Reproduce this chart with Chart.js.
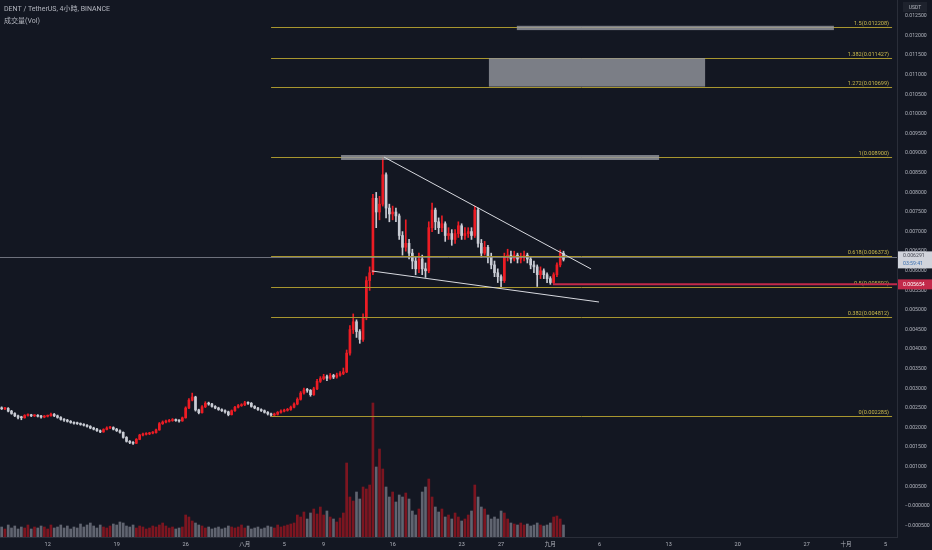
<!DOCTYPE html>
<html>
<head>
<meta charset="utf-8">
<script src="https://cdn.jsdelivr.net/npm/chart.js@4.4.0/dist/chart.umd.min.js"></script>
<style>
  html, body { margin: 0; padding: 0; background: #131722; }
  canvas { display: block; }
</style>
</head>
<body>
<canvas id="chart" width="932" height="550"></canvas>
<script>
// Data: DENT/USDT, one candle per 8h from 7 Jul 08:00, prices in 1e-6 USDT
var opens = [
  2500,2480,2490,2420,2360,2300,2260,2250,2310,2320, 2300,2310,2290,2270,2290,2300,2340,2300,2260,2210,
  2190,2160,2130,2110,2100,2080,2060,2030,1990,1960, 1920,1890,1950,1990,2000,1960,1920,1880,1750,1650,
  1620,1600,1700,1810,1830,1840,1860,1870,1940,2100, 2140,2160,2180,2200,2180,2170,2250,2500,2700,2780,
  2450,2380,2530,2620,2600,2540,2500,2460,2430,2400, 2330,2430,2520,2560,2580,2630,2620,2540,2500,2460,
  2430,2390,2350,2320,2340,2390,2420,2440,2460,2520, 2600,2720,2880,2960,2950,2840,2990,3180,3250,3300,
  3260,3330,3290,3340,3380,3420,3900,4500,4700,4450, 4250,4800,5750,5950,7850,7500,7700,8450,7600,7450,
  7500,7400,6900,6600,6700,6450,6250,6050,6300,6050, 6000,7100,7550,7250,7100,7200,6900,6950,6800,6950,
  7150,6900,6950,7000,6900,7550,6700,6450,6600,6350, 6150,5950,5850,5750,6350,6400,6300,6400,6300,6350,
  6400,6300,6150,6100,5900,6000,5900,5800,5700,5900, 6150,6450
];
var highs = [
  2530,2520,2510,2440,2380,2320,2290,2330,2350,2340, 2330,2330,2310,2310,2320,2370,2360,2320,2280,2230,
  2210,2180,2150,2140,2120,2100,2080,2050,2010,1980, 1940,1970,2020,2030,2020,1980,1940,1890,1770,1670,
  1640,1720,1830,1860,1870,1880,1900,1960,2130,2170, 2190,2210,2230,2220,2200,2270,2530,2740,2880,2800,
  2470,2560,2660,2650,2620,2560,2520,2480,2450,2420, 2450,2540,2590,2610,2670,2660,2640,2560,2520,2480,
  2450,2410,2370,2370,2410,2450,2470,2490,2550,2630, 2760,2920,3010,3000,2970,3030,3230,3300,3360,3340,
  3380,3360,3390,3430,3520,3980,4600,4900,4750,4500, 4900,5850,6100,7950,8000,7900,8900,8500,7700,7650,
  7600,7450,7000,7300,6800,6550,6350,6450,6400,6200, 7250,7730,7600,7350,7400,7250,7100,7050,7050,7250,
  7200,7100,7100,7100,7650,7600,6800,6750,6650,6450, 6250,6050,5900,6450,6550,6500,6500,6450,6450,6500,
  6450,6350,6250,6150,6100,6050,5950,5850,5950,6200, 6530,6500
];
var lows = [
  2460,2460,2400,2340,2280,2220,2200,2240,2290,2280, 2280,2270,2240,2250,2270,2290,2280,2240,2190,2160,
  2140,2110,2090,2080,2060,2040,2010,1970,1940,1900, 1870,1880,1940,1970,1940,1900,1860,1730,1630,1590,
  1570,1590,1690,1790,1810,1820,1840,1860,1930,2080, 2120,2140,2160,2160,2140,2160,2240,2480,2680,2420,
  2350,2370,2510,2570,2520,2480,2440,2410,2370,2300, 2320,2410,2500,2540,2560,2590,2520,2480,2440,2410,
  2370,2320,2285,2300,2320,2370,2400,2420,2440,2500, 2580,2700,2850,2900,2800,2820,2970,3150,3220,3200,
  3230,3250,3260,3310,3350,3400,3850,4400,4300,4150, 4200,4750,5500,5900,7100,7300,7650,7350,7250,7300,
  7250,6800,6400,6500,6300,6050,5900,5950,5900,5830, 5950,7000,7050,6950,7000,6750,6800,6650,6700,6850,
  6800,6800,6850,6800,6850,6600,6350,6400,6200,6050, 5850,5700,5580,5700,6250,6200,6250,6200,6200,6250,
  6200,6050,5950,5600,5800,5800,5700,5654,5680,5850, 6100,6250
];
var closes = [
  2480,2490,2420,2360,2300,2260,2250,2310,2320,2300, 2310,2290,2270,2290,2300,2340,2300,2260,2210,2190,
  2160,2130,2110,2100,2080,2060,2030,1990,1960,1920, 1890,1950,1990,2000,1960,1920,1880,1750,1650,1620,
  1600,1700,1810,1830,1840,1860,1870,1940,2100,2140, 2160,2180,2200,2180,2170,2250,2500,2700,2780,2450,
  2380,2530,2620,2600,2540,2500,2460,2430,2400,2330, 2430,2520,2560,2580,2630,2620,2540,2500,2460,2430,
  2390,2350,2320,2340,2390,2420,2440,2460,2520,2600, 2720,2880,2960,2950,2840,2990,3180,3250,3300,3260,
  3330,3290,3340,3380,3420,3900,4500,4700,4450,4250, 4800,5750,5950,7850,7500,7700,8450,7600,7450,7500,
  7400,6900,6600,6700,6450,6250,6050,6300,6050,6000, 7100,7550,7250,7100,7200,6900,6950,6800,6950,7150,
  6900,6950,7000,6900,7550,6700,6450,6600,6350,6150, 5950,5850,5750,6350,6400,6300,6400,6300,6350,6400,
  6300,6150,6100,5900,6000,5900,5800,5700,5900,6150, 6450,6291
];
// volume, arbitrary units
var volumes = [
  10,8,12,9,11,8,10,9,12,8, 10,9,11,10,8,12,9,10,12,9,
  11,8,10,9,13,10,12,14,11,9, 12,10,9,11,13,12,15,14,11,10,
  12,9,11,10,8,9,11,10,12,14, 11,9,10,8,9,10,22,20,16,14,
  12,11,9,10,8,9,10,8,9,11, 10,9,10,12,9,11,8,9,10,8,
  9,11,10,9,12,10,11,12,13,14, 22,20,25,18,24,28,23,30,22,26,
  20,18,15,19,24,74,40,36,45,38, 50,48,52,134,70,88,68,50,40,45,
  35,42,40,44,38,26,22,28,45,50, 58,40,30,25,28,20,22,18,24,20,
  16,18,22,26,52,40,30,28,22,18, 20,18,26,24,18,14,13,12,14,12,
  13,11,12,14,12,11,12,14,20,21, 18,12
];

var slotCount = 273; // 8h slots shown, up to early October
var tickSlots = [14, 35, 56, 74, 86, 98, 119, 140, 152, 167, 182, 203, 224, 245, 257, 269];
var tickLabels = ['12', '19', '26', '八月', '5', '9', '16', '23', '27', '九月', '6', '13', '20', '27', '十月', '5'];

var fibLevels = ['0', '0.382', '0.5', '0.618', '1', '1.272', '1.382', '1.5'];
var fibPrices = [0.002285, 0.004812, 0.005592, 0.006373, 0.0089, 0.010699, 0.011427, 0.012208];

var lastPrice = 0.006291;
var lastTimer = '03:59:41';
var alertPrice = 0.005654;

// drawings in slot / price units
var boxes = [
  [156.8, 253.3, 0.01225, 0.01214],
  [148.3, 214.1, 0.011427, 0.010699],
  [103.3, 200.1, 0.008954, 0.008827]
];
var trendLines = [
  [116.4, 0.0089, 179.4, 0.006046],
  [112.7, 0.005995, 181.8, 0.005204]
];

var bg = '#131722';
var upColor = '#ec1c24';
var downColor = '#c9ccd4';
var axisText = '#b2b5be';
var fibColor = '#a8962f';
var fibText = '#c9b84c';

var labels = [];
for (var i = 0; i < slotCount; i++) {
  var k = tickSlots.indexOf(i);
  labels.push(k >= 0 ? tickLabels[k] : '');
}

var bodies = [], wicks = [], bodyColors = [], volColors = [];
for (var i = 0; i < closes.length; i++) {
  bodies.push([opens[i] / 1e6, closes[i] / 1e6]);
  wicks.push([lows[i] / 1e6, highs[i] / 1e6]);
  var up = closes[i] >= opens[i];
  bodyColors.push(up ? upColor : downColor);
  volColors.push(up ? 'rgba(160,22,32,0.75)' : 'rgba(110,114,126,0.85)');
}

var yTicks = [];
for (var t = -1; t <= 25; t++) yTicks.push(t * 0.0005);

function fmtPrice(v) {
  if (v <= 0) return '\u2212' + Math.abs(v).toFixed(6);
  return v.toFixed(6);
}

var drawings = {
  id: 'drawings',
  beforeDraw: function (chart) {
    var ctx = chart.ctx;
    ctx.save();
    ctx.fillStyle = bg;
    ctx.fillRect(0, 0, chart.width, chart.height);
    ctx.restore();
  },
  afterDatasetsDraw: function (chart) {
    var ctx = chart.ctx, xs = chart.scales.x, ys = chart.scales.y, area = chart.chartArea;
    ctx.save();
    ctx.beginPath();
    ctx.rect(area.left, area.top, area.right - area.left, area.bottom - area.top);
    ctx.clip();

    // last price line
    ctx.strokeStyle = 'rgba(150,153,162,0.7)';
    ctx.lineWidth = 1;
    var yl = Math.round(ys.getPixelForValue(0.00634)) + 0.5;
    ctx.beginPath(); ctx.moveTo(area.left, yl); ctx.lineTo(area.right, yl); ctx.stroke();

    // fib levels
    ctx.font = '5.6px Roboto';
    ctx.textAlign = 'right';
    ctx.textBaseline = 'bottom';
    var fx1 = xs.getPixelForValue(82), fx2 = xs.getPixelForValue(271);
    fibPrices.forEach(function (p, i) {
      var y = Math.round(ys.getPixelForValue(p)) + 0.5;
      ctx.strokeStyle = fibColor;
      ctx.beginPath(); ctx.moveTo(fx1, y); ctx.lineTo(fx2, y); ctx.stroke();
      ctx.fillStyle = fibText;
      ctx.fillText(fibLevels[i] + '(' + p.toFixed(6) + ')', fx2 - 3, y - 1);
    });

    // boxes
    ctx.fillStyle = 'rgba(150,153,160,0.8)';
    boxes.forEach(function (b) {
      var x1 = xs.getPixelForValue(b[0]), x2 = xs.getPixelForValue(b[1]);
      var y1 = ys.getPixelForValue(b[2]), y2 = ys.getPixelForValue(b[3]);
      ctx.fillRect(x1, y1, x2 - x1, y2 - y1);
    });

    // trend lines
    ctx.strokeStyle = '#d7d9df';
    trendLines.forEach(function (l) {
      ctx.beginPath();
      ctx.moveTo(xs.getPixelForValue(l[0]), ys.getPixelForValue(l[1]));
      ctx.lineTo(xs.getPixelForValue(l[2]), ys.getPixelForValue(l[3]));
      ctx.stroke();
    });

    // alert line
    ctx.strokeStyle = '#c2294a';
    ctx.lineWidth = 2;
    var ya = ys.getPixelForValue(alertPrice);
    ctx.beginPath(); ctx.moveTo(xs.getPixelForValue(167.8), ya); ctx.lineTo(area.right, ya); ctx.stroke();
    ctx.restore();
  },
  afterDraw: function (chart) {
    var ctx = chart.ctx, ys = chart.scales.y, area = chart.chartArea;
    ctx.save();
    // header
    ctx.fillStyle = axisText;
    ctx.font = '7px Roboto, "Noto Sans CJK TC"';
    ctx.textAlign = 'left';
    ctx.textBaseline = 'middle';
    ctx.fillText('DENT / TetherUS, 4小時, BINANCE', 4, 9);
    ctx.fillText('成交量(Vol)', 4, 21);

    // USDT label
    ctx.fillStyle = '#1e222d';
    ctx.fillRect(area.right + 6, 2, 24, 10);
    ctx.fillStyle = axisText;
    ctx.font = '5px Roboto';
    ctx.textAlign = 'center';
    ctx.fillText('USDT', area.right + 18, 7.5);

    // alert price label
    var ya = ys.getPixelForValue(alertPrice);
    ctx.fillStyle = '#c2294a';
    ctx.fillRect(area.right + 1, ya - 5, 34, 10);
    ctx.fillStyle = '#ffffff';
    ctx.font = '5.2px Roboto';
    ctx.textAlign = 'left';
    ctx.fillText(alertPrice.toFixed(6), area.right + 6, ya);

    // last price label
    var yp = ys.getPixelForValue(lastPrice);
    ctx.fillStyle = '#d1d4dc';
    ctx.fillRect(area.right + 1, yp - 8, 34, 17);
    ctx.fillStyle = '#434651';
    ctx.fillText(lastPrice.toFixed(6), area.right + 6, yp - 3.5);
    ctx.fillStyle = '#3a6fb0';
    ctx.fillText(lastTimer, area.right + 6, yp + 4.5);
    ctx.restore();
  }
};

var ctx = document.getElementById('chart').getContext('2d');
var chart = new Chart(ctx, {
  type: 'bar',
  data: {
    labels: labels,
    datasets: [
      {
        data: bodies,
        backgroundColor: bodyColors,
        barThickness: 2,
        minBarLength: 1,
        grouped: false,
        yAxisID: 'y',
        order: 1
      },
      {
        data: wicks,
        backgroundColor: bodyColors,
        barThickness: 1,
        grouped: false,
        yAxisID: 'y',
        order: 2
      },
      {
        data: volumes,
        backgroundColor: volColors,
        barThickness: 2,
        grouped: false,
        yAxisID: 'v',
        order: 3
      }
    ]
  },
  options: {
    responsive: false,
    animation: false,
    layout: { padding: 0 },
    plugins: { legend: { display: false }, tooltip: { enabled: false } },
    scales: {
      x: {
        grid: { display: false, drawTicks: false },
        border: { display: true, color: '#2a2e39' },
        ticks: {
          autoSkip: false,
          maxRotation: 0,
          padding: 4,
          color: axisText,
          font: { size: 5.5, family: 'Roboto, "Noto Sans CJK SC"' }
        },
        afterFit: function (scale) {
          scale.height = 13;
          scale.paddingLeft = 0;
          scale.paddingRight = 0;
        }
      },
      y: {
        position: 'right',
        min: -0.000791,
        max: 0.012908,
        grid: { display: false, drawTicks: false },
        border: { display: true, color: '#2a2e39' },
        ticks: {
          padding: 8,
          color: axisText,
          font: { size: 5.2, family: 'Roboto' },
          callback: function (v) { return fmtPrice(v); }
        },
        afterBuildTicks: function (scale) {
          scale.ticks = yTicks.map(function (v) { return { value: v }; });
        },
        afterFit: function (scale) {
          scale.width = 35;
          scale.paddingTop = 0;
          scale.paddingBottom = 0;
        }
      },
      v: {
        display: false,
        min: 0,
        max: 537
      }
    }
  },
  plugins: [drawings]
});
</script>
</body>
</html>
